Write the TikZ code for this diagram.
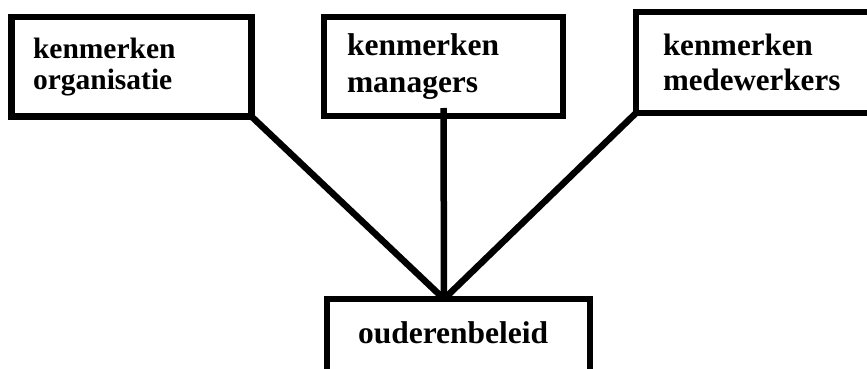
\documentclass[tikz,border=0pt]{standalone}
\usepackage{fontspec}
\setmainfont{Liberation Serif}
\usepackage{tikz}
\usetikzlibrary{positioning}

\begin{document}
\begin{tikzpicture}[x=1pt,y=-1pt,
  box/.style={draw,line width=6.5pt,outer sep=0pt,rectangle,align=left,font=\bfseries},
  lijn/.style={line width=6.5pt}]
\useasboundingbox (0,0) rectangle (867,369);
\clip (0,0) rectangle (867,369);
\node[box,minimum width=240pt,minimum height=99.5pt,inner xsep=21.5pt,text width=197pt,
  font=\bfseries\fontsize{29.5}{31}\selectfont] (org) at (131.5,66.75) {kenmerken\\organisatie};
\node[box,minimum width=239pt,minimum height=99pt,inner xsep=23pt,text width=193pt,
  font=\bfseries\fontsize{31.5}{37}\selectfont] (mgr) at (443.5,66.5) {kenmerken\\managers};
\node[box,minimum width=264pt,minimum height=101pt,inner xsep=27pt,text width=210pt,
  font=\bfseries\fontsize{31}{35}\selectfont] (mdw) at (768,62.5) {kenmerken\\medewerkers};
\node[box,anchor=north,minimum width=263pt,inner xsep=31pt,text width=201pt,inner ysep=22pt,
  text height=22pt,text depth=60pt,font=\bfseries\fontsize{31.5}{37}\selectfont] (beleid) at (458.5,299) {ouderenbeleid};
\draw[lijn] (org.south east) -- ([xshift=-14.5pt]beleid.north);
\draw[lijn] ([yshift=8pt]mgr.south) -- ([xshift=-14.5pt]beleid.north);
\draw[lijn] (mdw.south west) -- ([xshift=-14.5pt]beleid.north);
\end{tikzpicture}
\end{document}
